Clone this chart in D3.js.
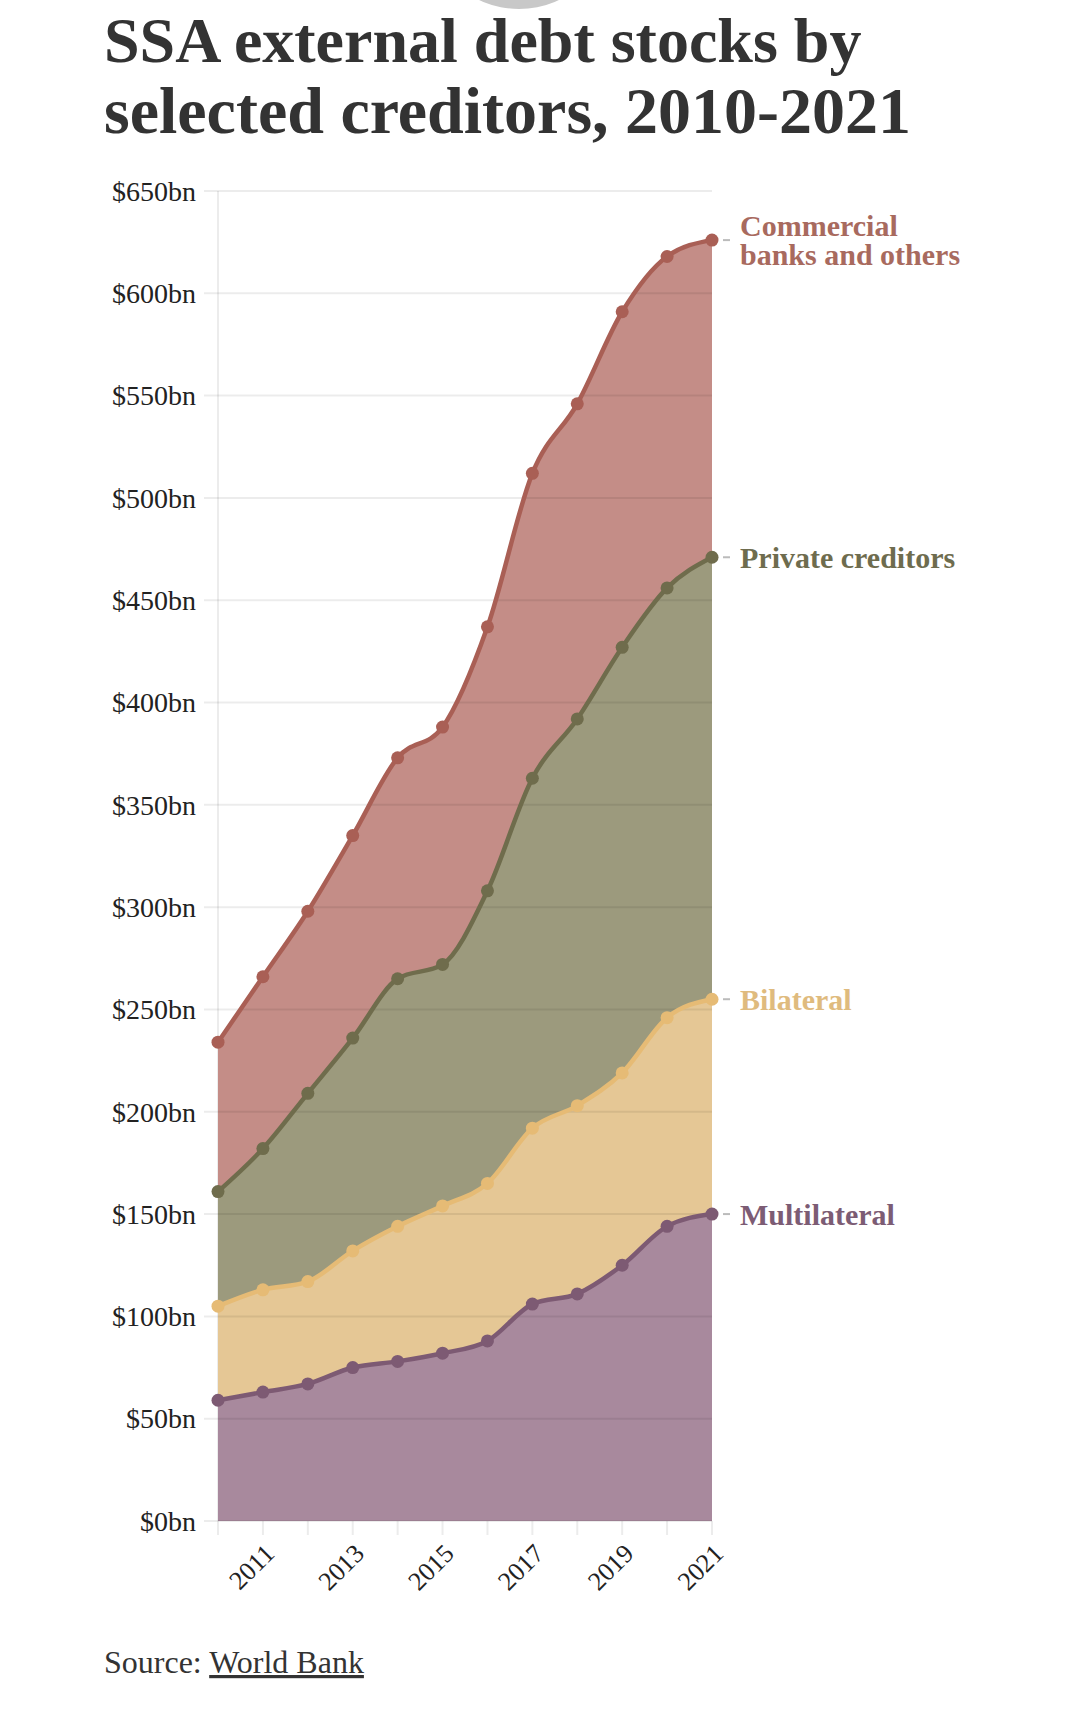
<!DOCTYPE html>
<html>
<head>
<meta charset="utf-8">
<script src="https://cdn.jsdelivr.net/npm/d3@7"></script>
<style>
  body { margin: 0; background: #fff; }
  svg { display: block; }
</style>
</head>
<body>
<svg id="chart" width="1080" height="1712"></svg>
<script>
// Data (level of each line, $bn)
const years = [2010, 2011, 2012, 2013, 2014, 2015, 2016, 2017, 2018, 2019, 2020, 2021];
const multilateral = [59, 63, 67, 75, 78, 82, 88, 106, 111, 125, 144, 150];
const bilateral = [105, 113, 117, 132, 144, 154, 165, 192, 203, 219, 246, 255];
const privateCreditors = [161, 182, 209, 236, 265, 272, 308, 363, 392, 427, 456, 471];
const commercialBanks = [234, 266, 298, 335, 373, 388, 437, 512, 546, 591, 618, 626];
const yTicks = [0, 50, 100, 150, 200, 250, 300, 350, 400, 450, 500, 550, 600, 650];
const xLabelYears = [2011, 2013, 2015, 2017, 2019, 2021];

const series = [
  { name: ["Multilateral"], values: multilateral, line: "#7d5a73", fill: "#a8899d", label: "#7c5c74" },
  { name: ["Bilateral"], values: bilateral, line: "#e6bb75", fill: "#e5c795", label: "#dfbb7e" },
  { name: ["Private creditors"], values: privateCreditors, line: "#6f6c4c", fill: "#9c9a7d", label: "#6e6c4e" },
  { name: ["Commercial", "banks and others"], values: commercialBanks, line: "#a95f55", fill: "#c48d87", label: "#a86a5e" }
];

const svg = d3.select("#chart");
const serif = "'Liberation Serif', 'DejaVu Serif', serif";

// stray grey circle cut off at the top of the screenshot
svg.append("circle")
  .attr("cx", 519).attr("cy", -84).attr("r", 93)
  .attr("fill", "#c8c8c8");

// Title
const title = svg.append("text")
  .attr("x", 104)
  .attr("font-family", serif)
  .attr("font-weight", 700)
  .attr("font-size", 64)
  .attr("fill", "#333");
title.append("tspan").attr("x", 104).attr("y", 62).text("SSA external debt stocks by");
title.append("tspan").attr("x", 104).attr("y", 133).attr("font-size", 66).text("selected creditors, 2010-2021");

// Scales
const x = d3.scaleLinear().domain([2010, 2021]).range([218, 712]);
const y = d3.scaleLinear().domain([0, 650]).range([1521, 191]);

// Y axis labels
svg.append("g").selectAll("text")
  .data(yTicks)
  .join("text")
  .attr("x", 196)
  .attr("y", d => y(d))
  .attr("dy", "0.35em")
  .attr("text-anchor", "end")
  .attr("font-family", serif)
  .attr("font-size", 28)
  .attr("fill", "#222")
  .text(d => `$${d}bn`);

// axis line + year ticks
svg.append("line")
  .attr("x1", x(2010)).attr("x2", x(2010))
  .attr("y1", y(650)).attr("y2", y(0) + 14)
  .attr("stroke", "#ececec").attr("stroke-width", 2);

svg.append("g").selectAll("line")
  .data(years)
  .join("line")
  .attr("x1", d => x(d)).attr("x2", d => x(d))
  .attr("y1", y(0)).attr("y2", y(0) + 14)
  .attr("stroke", "#ececec").attr("stroke-width", 2);

svg.append("g").selectAll("text")
  .data(xLabelYears)
  .join("text")
  .attr("transform", d => `translate(${x(d) + 13},${y(0) + 34}) rotate(-45)`)
  .attr("text-anchor", "end")
  .attr("font-family", serif)
  .attr("font-size", 26)
  .attr("fill", "#222")
  .text(d => d);

// Areas: each band sits between its line and the one below
const area = d3.area()
  .x((d, i) => x(years[i]))
  .curve(d3.curveMonotoneX);

series.forEach((s, k) => {
  const below = k === 0 ? null : series[k - 1].values;
  svg.append("path")
    .datum(s.values)
    .attr("d", area
      .y0((d, i) => below ? y(below[i]) : y(0))
      .y1(d => y(d)))
    .attr("fill", s.fill);
});

// Gridlines drawn over the fills, faintly
svg.append("g").selectAll("line")
  .data(yTicks)
  .join("line")
  .attr("x1", 204).attr("x2", x(2021))
  .attr("y1", d => y(d)).attr("y2", d => y(d))
  .attr("stroke", "rgba(0,0,0,0.075)")
  .attr("stroke-width", 2);

// Lines and dots
const line = d3.line()
  .x((d, i) => x(years[i]))
  .y(d => y(d))
  .curve(d3.curveMonotoneX);

series.forEach(s => {
  svg.append("path")
    .datum(s.values)
    .attr("d", line)
    .attr("fill", "none")
    .attr("stroke", s.line)
    .attr("stroke-width", 4.5);

  svg.append("g").selectAll("circle")
    .data(s.values)
    .join("circle")
    .attr("cx", (d, i) => x(years[i]))
    .attr("cy", d => y(d))
    .attr("r", 6.5)
    .attr("fill", s.line);
});

// Labels at line ends
series.forEach(s => {
  const last = s.values[s.values.length - 1];
  const ly = y(last);
  svg.append("line")
    .attr("x1", 723).attr("x2", 730)
    .attr("y1", ly).attr("y2", ly)
    .attr("stroke", "#bbb").attr("stroke-width", 2);

  const lh = 29;
  const t = svg.append("text")
    .attr("font-family", serif)
    .attr("font-weight", 700)
    .attr("font-size", 30)
    .attr("fill", s.label);
  s.name.forEach((n, i) => {
    t.append("tspan")
      .attr("x", 740)
      .attr("y", ly + (i - (s.name.length - 1) / 2) * lh)
      .attr("dy", "0.35em")
      .text(n);
  });
});

// Source
const src = svg.append("text")
  .attr("x", 104).attr("y", 1673)
  .attr("font-family", serif)
  .attr("font-size", 32)
  .attr("fill", "#333");
src.append("tspan").text("Source: ");
src.append("tspan").attr("text-decoration", "underline").text("World Bank");
</script>
</body>
</html>
